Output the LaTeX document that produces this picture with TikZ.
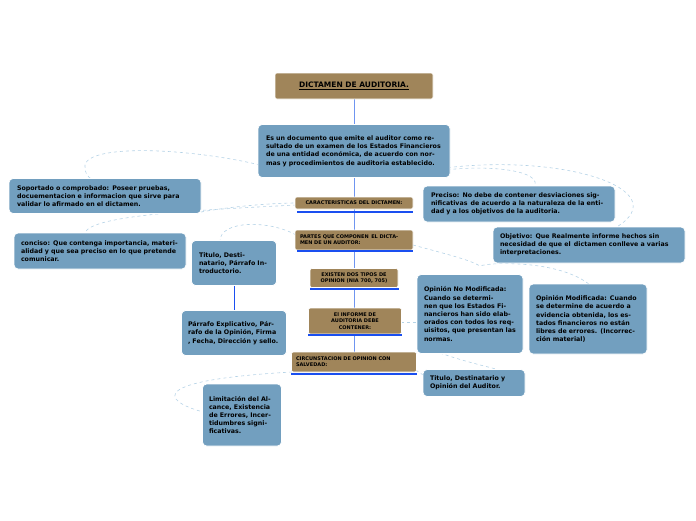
\documentclass[tikz,border=0pt]{standalone}
\usepackage{fontspec}
\setmainfont{DejaVu Sans}
\begin{document}
\begin{tikzpicture}[x=1pt,y=-1pt,
  bbox/.style={draw=white,line width=0.8pt,fill=bluebox,rounded corners=4pt,font=\bfseries\fontsize{6.3}{8.2}\selectfont,align=left,inner sep=0pt},
  brbox/.style={draw=white,line width=0.6pt,fill=brownbox,rounded corners=2pt,font=\bfseries\fontsize{5}{6.2}\selectfont,inner sep=0pt},
  uline/.style={draw=ublue,line width=2pt},
  conn/.style={draw=lblue,line width=0.8pt},
  dcurve/.style={draw=dblue,dashed,line width=0.6pt}]
\definecolor{bluebox}{HTML}{729FBF}
\definecolor{brownbox}{HTML}{A0855A}
\definecolor{ublue}{HTML}{1A4FF0}
\definecolor{lblue}{HTML}{6F95F0}
\definecolor{dblue}{HTML}{B5D3E6}
\useasboundingbox (0,0) rectangle (696,520);
% connectors
\coordinate (top) at (354,98);
\draw[conn] (354,98) -- (354,362);
\draw[conn,draw=ublue] (234,285) -- (234,311);
% dashed curves
\draw[dcurve] (300,177) .. controls (230,150) and (90,140) .. (85,165) .. controls (84,172) and (88,178) .. (92,179);
\draw[dcurve] (201,212) .. controls (240,205) and (280,203) .. (296,203);
\draw[dcurve] (296,205) .. controls (200,210) and (90,215) .. (85,233);
\draw[dcurve] (296,235) .. controls (270,220) and (220,220) .. (220,241);
\draw[dcurve] (400,177) .. controls (480,160) and (540,170) .. (535,185);
\draw[dcurve] (430,170) .. controls (560,150) and (680,190) .. (615,228);
\draw[dcurve] (413,245) .. controls (450,255) and (470,260) .. (480,266) .. controls (490,262) and (560,260) .. (590,285);
\draw[dcurve] (401,322) -- (418,322);
\draw[dcurve] (440,353) .. controls (460,360) and (480,365) .. (500,370);
\draw[dcurve] (416,370) .. controls (425,378) and (427,378) .. (526,385);
\draw[dcurve] (292,372) .. controls (150,380) and (160,400) .. (203,412);
% boxes
\node[brbox,minimum width=158pt,minimum height=26pt,font=\bfseries\fontsize{7.5}{9}\selectfont] (title) at (354,86) {\underline{DICTAMEN DE AUDITORIA.}};
\node[bbox,minimum width=192pt,minimum height=53pt,text width=176pt] (desc) at (354,151) {Es un documento que emite el auditor como resultado de un examen de los Estados Financieros de una entidad económica, de acuerdo con normas y procedimientos de auditoria establecido.};
\node[bbox,minimum width=192pt,minimum height=35pt,text width=176pt] (sop) at (105,196) {Soportado o comprobado: Poseer pruebas, docuementacion e informacion que sirve para validar lo afirmado en el dictamen.};
\node[bbox,minimum width=172pt,minimum height=36pt,text width=158pt] (conc) at (100,251) {conciso: Que contenga importancia, materialidad y que sea preciso en lo que pretende comunicar.};
\node[bbox,minimum width=85pt,minimum height=45pt,text width=70pt] (tit1) at (234,263) {Titulo, Destinatario, Párrafo Introductorio.};
\node[bbox,minimum width=105pt,minimum height=45pt,text width=92pt] (parr) at (234,333) {Párrafo Explicativo, Párrafo de la Opinión, Firma , Fecha, Dirección y sello.};
\node[bbox,minimum width=79pt,minimum height=62pt,text width=66pt] (lim) at (242,415) {Limitación del Alcance, Existencia de Errores, Incertidumbres significativas.};
\node[bbox,minimum width=192pt,minimum height=36pt,text width=176pt] (prec) at (519,204) {Preciso: No debe de contener desviaciones significativas\, de acuerdo a la naturaleza de la entidad y a los objetivos de la auditoria.};
\node[bbox,minimum width=192pt,minimum height=36pt,text width=178pt] (obj) at (589,245) {Objetivo: Que Realmente informe hechos sin necesidad de que el\, dictamen conlleve a varias interpretaciones.};
\node[bbox,minimum width=106pt,minimum height=79pt,text width=92pt] (opn) at (470,314) {Opinión No Modificada: Cuando se determinen que los Estados Financieros han sido elaborados con todos los requisitos, que presentan las normas.};
\node[bbox,minimum width=118pt,minimum height=70pt,text width=104pt] (opm) at (588,319) {Opinión Modificada: Cuando se determine de acuerdo a evidencia obtenida, los estados financieros no están libres de errores. (Incorrección material)};
\node[bbox,minimum width=102pt,minimum height=27pt,text width=88pt] (tit2) at (474,383) {Titulo, Destinatario y Opinión del Auditor.};
% brown small nodes
\node[brbox,minimum width=118pt,minimum height=12pt] (car) at (354,203) {CARACTERISTICAS DEL DICTAMEN:};
\draw[uline] (297,212) -- (413,212);
\node[brbox,minimum width=118pt,minimum height=20pt,align=left,text width=108pt] (par) at (354,240) {PARTES QUE COMPONEN\, EL DICTAMEN DE UN AUDITOR:};
\draw[uline] (297,251) -- (413,251);
\node[brbox,minimum width=88pt,minimum height=19pt,align=center] (exi) at (354,278) {EXISTEN DOS TIPOS DE\\OPINION (NIA 700, 705)};
\draw[uline] (310,289) -- (399,289);
\node[brbox,minimum width=93pt,minimum height=26pt,align=center] (inf) at (355,321) {El INFORME DE\\AUDITORIA DEBE\\CONTENER:};
\draw[uline] (308,335) -- (402,335);
\node[brbox,minimum width=125pt,minimum height=20pt,align=left,text width=116pt] (cir) at (354,362) {CIRCUNSTACION DE OPINION CON SALVEDAD:};
\draw[uline] (291,374) -- (417,374);
\end{tikzpicture}
\end{document}
